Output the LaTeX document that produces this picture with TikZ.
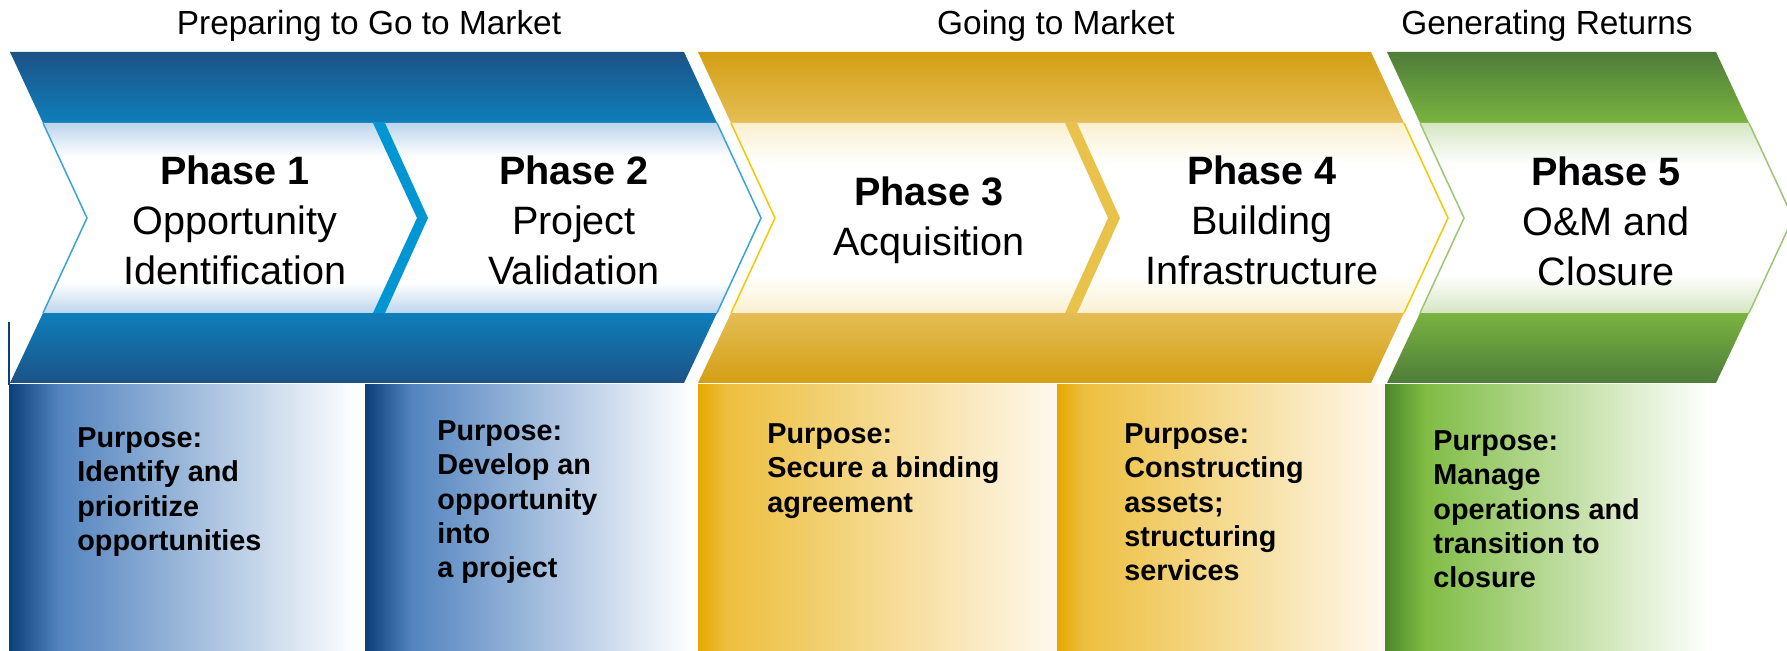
\documentclass[tikz,border=0pt]{standalone}
\usepackage{fontspec}
\setmainfont{Liberation Sans}

\definecolor{bluedark}{HTML}{1C5387}
\definecolor{bluebright}{HTML}{0E7EBA}
\definecolor{bandblue}{HTML}{BCD5EC}
\definecolor{bluestripe}{HTML}{0096D4}
\definecolor{blueline}{HTML}{3AA2DA}
\definecolor{boxnavy}{HTML}{0B3F78}
\definecolor{boxblue}{HTML}{5384BF}
\definecolor{golddark}{HTML}{D49F14}
\definecolor{goldbright}{HTML}{E4BD55}
\definecolor{bandgold}{HTML}{FAF0D0}
\definecolor{goldstripe}{HTML}{F4D600}
\definecolor{goldedge}{HTML}{E9C24C}
\definecolor{goldline}{HTML}{F2C800}
\definecolor{boxgold}{HTML}{E6A800}
\definecolor{boxgoldmid}{HTML}{EDBF3E}
\definecolor{goldwhite}{HTML}{FEF8EE}
\definecolor{greendark}{HTML}{4E7D3A}
\definecolor{greenbright}{HTML}{7AB33F}
\definecolor{bandgreen}{HTML}{D5E6C2}
\definecolor{greenline}{HTML}{9BC674}
\definecolor{boxgreen}{HTML}{4B8729}
\definecolor{boxgreenmid}{HTML}{80BC45}

\pgfdeclareverticalshading{blueband}{100bp}{color(0bp)=(bandblue); color(25bp)=(bandblue); color(33bp)=(white); color(66bp)=(white); color(75bp)=(bandblue); color(100bp)=(bandblue)}
\pgfdeclareverticalshading{goldband}{100bp}{color(0bp)=(bandgold); color(25bp)=(bandgold); color(35bp)=(white); color(64bp)=(white); color(75bp)=(bandgold); color(100bp)=(bandgold)}
\pgfdeclareverticalshading{greenband}{100bp}{color(0bp)=(bandgreen); color(25bp)=(bandgreen); color(35bp)=(white); color(64bp)=(white); color(75bp)=(bandgreen); color(100bp)=(bandgreen)}
\pgfdeclarehorizontalshading{bluefade}{100bp}{color(0bp)=(boxnavy); color(25bp)=(boxnavy); color(32bp)=(boxblue); color(74bp)=(white); color(100bp)=(white)}
\pgfdeclarehorizontalshading{goldfade}{100bp}{color(0bp)=(boxgold); color(25bp)=(boxgold); color(29bp)=(boxgoldmid); color(75bp)=(goldwhite); color(100bp)=(goldwhite)}
\pgfdeclarehorizontalshading{greenfade}{100bp}{color(0bp)=(boxgreen); color(25bp)=(boxgreen); color(31bp)=(boxgreenmid); color(73bp)=(white); color(100bp)=(white)}

\tikzset{heading/.style={font=\fontsize{16.7}{20}\selectfont, anchor=base, inner sep=0pt},
phase/.style={font=\fontsize{19.8}{25}\selectfont, align=center, inner sep=0pt},
purpose/.style={font=\bfseries\fontsize{14.4}{17.2}\selectfont, align=left, anchor=north west, inner sep=0pt}
}

% left x, right x, dark, bright, band shading, edge line
\newcommand{\bigchevron}[6]{%
  \shade[top color=#3, bottom color=#4] (#1,52) -- (#2,52) -- ({#2+33},123) -- ({#1+33},123) -- cycle;
  \shade[top color=#4, bottom color=#3] ({#1+33},313) -- ({#2+33},313) -- (#2,383) -- (#1,383) -- cycle;
  \shade[shading=#5] ({#1+33},123) -- ({#2+33},123) -- ({#2+77},218) -- ({#2+33},313)
        -- ({#1+33},313) -- ({#1+77},218) -- cycle;
  \draw[#6, line width=0.75pt] ({#1+33},123) -- ({#1+77},218) -- ({#1+33},313)
        ({#2+33},123) -- ({#2+77},218) -- ({#2+33},313);
}

\begin{document}
\begin{tikzpicture}[x=0.5pt, y=-0.5pt]
  \path[fill=white, use as bounding box] (0,0) rectangle (1787,651);

  \node[heading] (prep)   at (369,35)  {Preparing to Go to Market};
  \node[heading] (going)  at (1056,35) {Going to Market};
  \node[heading] (return) at (1547,35) {Generating Returns};

  \bigchevron{10}{684}{bluedark}{bluebright}{blueband}{blueline}
  \bigchevron{698}{1371}{golddark}{goldbright}{goldband}{goldline}
  \bigchevron{1387}{1716}{greendark}{greenbright}{greenband}{greenline}

  \fill[bluestripe] (373,123) -- (385,123) -- (428,218) -- (385,313) -- (373,313) -- (417,218) -- cycle;
  \shade[top color=goldedge, middle color=goldstripe, bottom color=goldedge]
    (1065,123) -- (1077,123) -- (1120,218) -- (1077,313) -- (1065,313) -- (1108,218) -- cycle;

  \foreach \xa/\xb/\fade in {9/365/bluefade, 365/697/bluefade, 698/1057/goldfade, 1057/1385/goldfade, 1385/1722/greenfade}
    \shade[shading=\fade] (\xa,385) rectangle (\xb,651);
  \draw[boxnavy, line width=0.6pt] (9,322) -- (9,385);

  \node[phase] (ph1) at (235,220)  {\textbf{Phase 1}\\Opportunity\\Identification};
  \node[phase] (ph2) at (574,220)  {\textbf{Phase 2}\\Project\\Validation};
  \node[phase] (ph3) at (929,220)  {\textbf{Phase 3}\\Acquisition};
  \node[phase] (ph4) at (1262,220) {\textbf{Phase 4}\\Building\\Infrastructure};
  \node[phase] (ph5) at (1606,221) {\textbf{Phase 5}\\O\&M and\\Closure};

  \node[purpose] (pu1) at (77,427)   {Purpose:\\Identify and\\prioritize\\opportunities};
  \node[purpose] (pu2) at (437,420)  {Purpose:\\Develop an\\opportunity\\into\\a project};
  \node[purpose] (pu3) at (767,423)  {Purpose:\\Secure a binding\\agreement};
  \node[purpose] (pu4) at (1124,423) {Purpose:\\Constructing\\assets;\\structuring\\services};
  \node[purpose] (pu5) at (1433,430) {Purpose:\\Manage\\operations and\\transition to\\closure};
\end{tikzpicture}
\end{document}
